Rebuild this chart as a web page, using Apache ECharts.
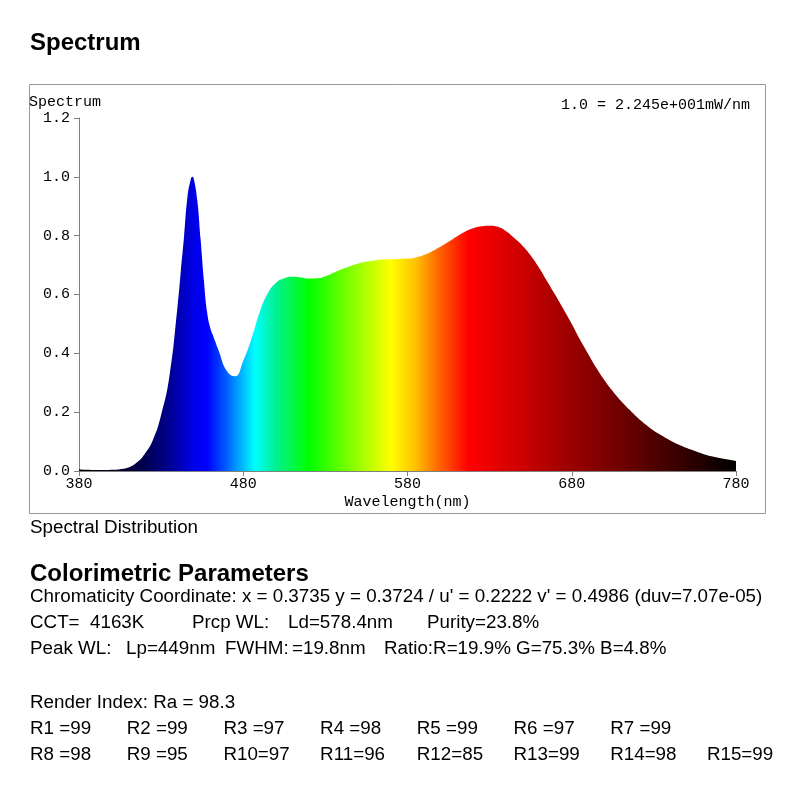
<!DOCTYPE html>
<html lang="en">
<head>
    <meta charset="utf-8">
    <title>Spectrum</title>
    <script src="https://cdn.jsdelivr.net/npm/echarts@6/dist/echarts.min.js"></script>
    <style>
        html, body { margin: 0; height: 100%; background: #fff; }
        #main { width: 800px; height: 800px; }
    </style>
</head>
<body>
<div id="main"></div>
<script type="text/javascript">
    // wavelength (nm) and relative spectrum
    var wavelengths = [380, 385, 390, 395, 400, 405, 410, 415, 420, 425, 430, 435, 440, 442, 444, 446, 448, 449, 450, 452, 454, 456, 458, 460, 462, 465, 470, 475, 480, 485, 490, 495, 500, 505, 510, 515, 520, 525, 530, 535, 540, 545, 550, 555, 560, 565, 570, 575, 580, 585, 590, 595, 600, 605, 610, 615, 620, 625, 630, 635, 640, 645, 650, 655, 660, 665, 670, 675, 680, 685, 690, 695, 700, 705, 710, 715, 720, 725, 730, 735, 740, 745, 750, 755, 760, 765, 770, 775, 780];
    var spectrum = [0.005, 0.004, 0.003, 0.003, 0.004, 0.006, 0.012, 0.028, 0.058, 0.105, 0.19, 0.32, 0.56, 0.68, 0.80, 0.93, 0.99, 1.0, 0.99, 0.92, 0.79, 0.65, 0.54, 0.485, 0.455, 0.41, 0.34, 0.322, 0.375, 0.45, 0.54, 0.605, 0.64, 0.655, 0.66, 0.658, 0.654, 0.655, 0.662, 0.674, 0.686, 0.696, 0.705, 0.712, 0.716, 0.719, 0.72, 0.721, 0.722, 0.726, 0.734, 0.747, 0.762, 0.779, 0.797, 0.813, 0.825, 0.832, 0.834, 0.83, 0.815, 0.792, 0.766, 0.733, 0.692, 0.645, 0.598, 0.55, 0.5, 0.447, 0.398, 0.35, 0.308, 0.271, 0.238, 0.209, 0.182, 0.158, 0.137, 0.12, 0.104, 0.09, 0.078, 0.068, 0.058, 0.05, 0.044, 0.039, 0.034];

    // fill colour by wavelength
    var colorWl = [380, 400, 420, 435, 450, 458, 470, 487, 500, 520, 545, 570, 585, 600, 617, 650, 680, 720, 780];
    var colorHex = ['#000000', '#000020', '#000050', '#000090', '#0000e8', '#0000ff', '#0060ff', '#00ffff', '#00f090', '#00ff00', '#80ff00', '#ffff00', '#ffc000', '#ff6000', '#ff0000', '#cc0000', '#990000', '#600000', '#000000'];

    var renderRow1 = ['R1 =99', 'R2 =99', 'R3 =97', 'R4 =98', 'R5 =99', 'R6 =97', 'R7 =99'];
    var renderRow2 = ['R8 =98', 'R9 =95', 'R10=97', 'R11=96', 'R12=85', 'R13=99', 'R14=98', 'R15=99'];

    var SANS = '"Liberation Sans", Arial, sans-serif';
    var MONO = '"Liberation Mono", "Courier New", monospace';
    var BODY = '18.8px ' + SANS;

    var myChart = echarts.init(document.getElementById('main'));

    function txt(x, y, text, font, align) {
        return {
            type: 'text',
            style: {
                x: x, y: y, text: text, font: font, fill: '#000',
                textAlign: align || 'left', align: align || 'left',
                textVerticalAlign: 'middle', verticalAlign: 'middle'
            },
            silent: true
        };
    }

    var stops = colorWl.map(function (w, i) {
        return { offset: (w - 380) / 400, color: colorHex[i] };
    });

    var graphics = [
        {
            type: 'rect',
            shape: { x: 29.5, y: 84.5, width: 736, height: 429 },
            style: { fill: 'none', stroke: '#999', lineWidth: 1 },
            silent: true
        },
        txt(30, 43, 'Spectrum', 'bold 24px ' + SANS),
        txt(29, 102, 'Spectrum', '15px ' + MONO),
        txt(750, 105, '1.0 = 2.245e+001mW/nm', '15px ' + MONO, 'right'),
        txt(30, 528, 'Spectral Distribution', BODY),
        txt(30, 574, 'Colorimetric Parameters', 'bold 24px ' + SANS),
        txt(30, 597, "Chromaticity Coordinate: x = 0.3735 y = 0.3724 / u' = 0.2222 v' = 0.4986 (duv=7.07e-05)", BODY),
        txt(30, 623, 'CCT=  4163K', BODY),
        txt(192, 623, 'Prcp WL:', BODY),
        txt(288, 623, 'Ld=578.4nm', BODY),
        txt(427, 623, 'Purity=23.8%', BODY),
        txt(30, 649, 'Peak WL:', BODY),
        txt(126, 649, 'Lp=449nm', BODY),
        txt(225, 649, 'FWHM:', BODY),
        txt(292, 649, '=19.8nm', BODY),
        txt(384, 649, 'Ratio:R=19.9% G=75.3% B=4.8%', BODY),
        txt(30, 703, 'Render Index: Ra = 98.3', BODY)
    ];
    renderRow1.forEach(function (t, i) {
        graphics.push(txt(30 + i * 96.7, 729, t, BODY));
    });
    renderRow2.forEach(function (t, i) {
        graphics.push(txt(30 + i * 96.7, 755, t, BODY));
    });

    var option = {
        backgroundColor: '#fff',
        animation: false,
        graphic: graphics,
        grid: { left: 79, right: 64, top: 118, bottom: 329 },
        xAxis: {
            type: 'value',
            min: 380,
            max: 780,
            interval: 100,
            name: 'Wavelength(nm)',
            nameLocation: 'middle',
            nameGap: 24,
            nameTextStyle: { fontFamily: MONO, fontSize: 15, color: '#000' },
            axisLine: { lineStyle: { color: '#808080' } },
            axisTick: { length: 5, lineStyle: { color: '#808080' } },
            axisLabel: { fontFamily: MONO, fontSize: 15, color: '#000', margin: 6 },
            splitLine: { show: false }
        },
        yAxis: {
            type: 'value',
            min: 0,
            max: 1.2,
            interval: 0.2,
            axisLine: { show: true, lineStyle: { color: '#808080' } },
            axisTick: { show: true, length: 5, lineStyle: { color: '#808080' } },
            axisLabel: {
                fontFamily: MONO, fontSize: 15, color: '#000', margin: 9,
                formatter: function (v) { return v.toFixed(1); }
            },
            splitLine: { show: false }
        },
        series: [
            {
                type: 'line',
                data: wavelengths.map(function (w, i) { return [w, spectrum[i]]; }),
                smooth: 0.5,
                showSymbol: false,
                lineStyle: { width: 0, opacity: 0 },
                areaStyle: {
                    opacity: 1,
                    color: new echarts.graphic.LinearGradient(0, 0, 1, 0, stops)
                }
            }
        ]
    };

    option && myChart.setOption(option);
</script>
</body>
</html>
